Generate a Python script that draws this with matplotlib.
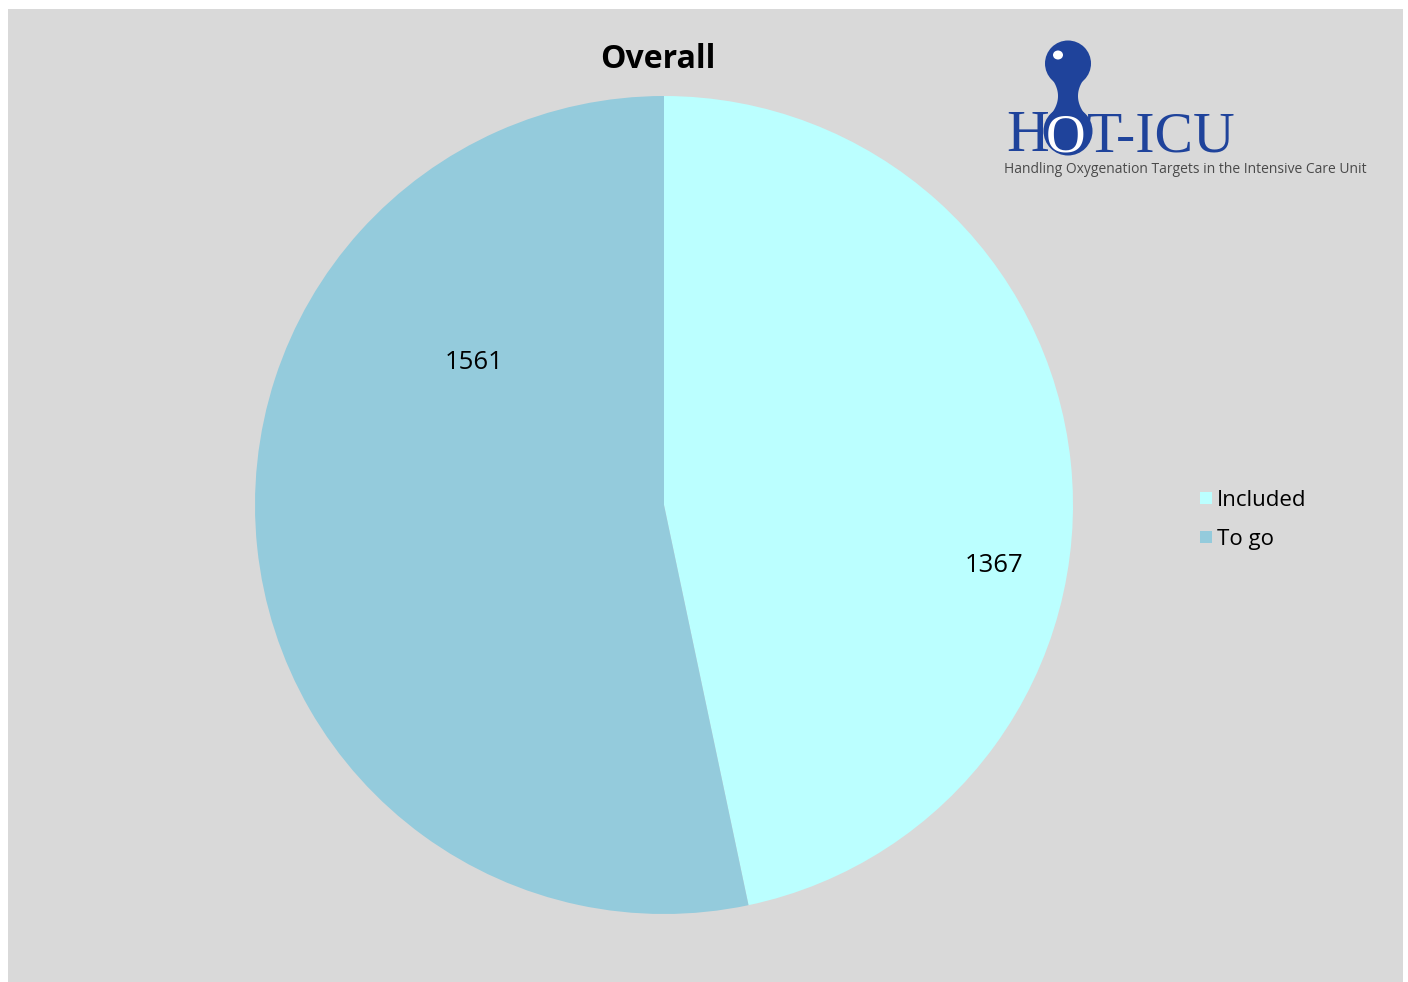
import numpy as np
import matplotlib
matplotlib.use("Agg")
import matplotlib.pyplot as plt
from matplotlib.patches import Circle, Rectangle, Polygon, Ellipse

# ---- data ----
categories = ["Included", "To go"]
values = [1367, 1561]
colors = ["#BBFFFF", "#94CBDC"]
title = "Overall"

W, H = 1408, 982
fig = plt.figure(figsize=(W / 100, H / 100), dpi=100)
fig.patch.set_facecolor("white")

# background panel in pixel coords
bg = fig.add_axes([0, 0, 1, 1])
bg.set_xlim(0, W)
bg.set_ylim(H, 0)
bg.axis("off")
bg.add_patch(Rectangle((8, 9), 1395, 973, facecolor="#D9D9D9", edgecolor="none", zorder=0))

# pie axes: center (664,505), radius 409 px
cx, cy, r = 664, 505, 409
ax = fig.add_axes([(cx - r) / W, (H - cy - r) / H, 2 * r / W, 2 * r / H])
ax.set_facecolor("none")
wedges, _ = ax.pie(values, colors=colors, startangle=90, counterclock=False,
                   wedgeprops=dict(linewidth=0))
ax.set_xlim(-1, 1)
ax.set_ylim(-1, 1)
ax.set_aspect("equal")
ax.axis("off")

# data labels (Excel best-fit style positions)
label_pos = [(0.82, -10.4), (0.58, 143.2)]
for v, (dist, ang) in zip(values, label_pos):
    a = np.deg2rad(ang)
    ax.text(dist * np.cos(a), dist * np.sin(a), f"{v}", ha="center", va="center",
            fontsize=18.5, color="black", family="Open Sans")

fig.text(658 / W, 1 - 59 / H, title, ha="center", va="center", fontsize=23,
         fontweight="bold", family="Open Sans")

# legend
leg_y = [498, 537]
for cat, col, y in zip(categories, colors, leg_y):
    bg.add_patch(Rectangle((1200, y - 6), 12, 12, facecolor=col, edgecolor="none", zorder=2))
    bg.text(1217, y + 7.5, cat, ha="left", va="baseline", fontsize=16, family="Open Sans",
            color="black", zorder=3)

# ---- HOT-ICU logo ----
blue = "#1F439B"
lx = 1068
bg.add_patch(Circle((lx, 63.5), 23, facecolor=blue, edgecolor="none", zorder=4))
bg.add_patch(Circle((lx, 131), 24.5, facecolor=blue, edgecolor="none", zorder=4))
ys = np.linspace(76, 116, 60)
hw = 10 + 0.0207 * (ys - 96) ** 2
poly = np.concatenate([np.column_stack([lx - hw, ys]), np.column_stack([lx + hw, ys[::-1]])])
bg.add_patch(Polygon(poly, closed=True, facecolor=blue, edgecolor="none", zorder=4))
bg.add_patch(Ellipse((1058, 55), 10, 9, facecolor="white", edgecolor="none", zorder=5))

bg.text(1006, 151, "H", ha="left", va="baseline", fontsize=42.5, family="Liberation Serif",
        color=blue, zorder=6)
bg.text(1066, 151, "O", ha="center", va="baseline", fontsize=39.5, family="Liberation Serif",
        color="white", zorder=6)
bg.text(1087, 151, "T-ICU", ha="left", va="baseline", fontsize=41.5, family="Liberation Serif",
        color=blue, zorder=6)
bg.text(1004, 169, "Handling Oxygenation Targets in the Intensive Care Unit", ha="left",
        va="center", fontsize=10, family="Open Sans", color="#4A4A4A", zorder=6)

fig.savefig("out.png", dpi=100, facecolor=fig.get_facecolor())
